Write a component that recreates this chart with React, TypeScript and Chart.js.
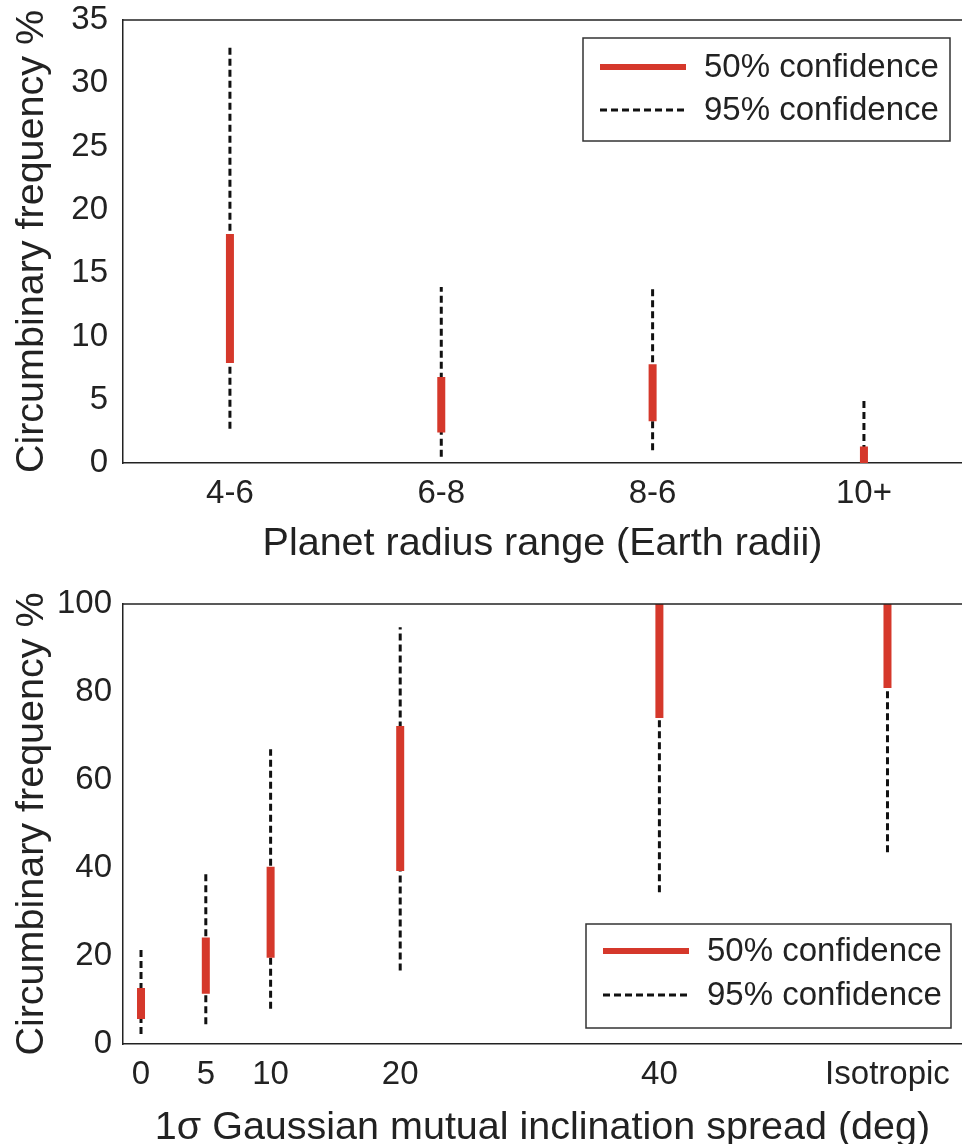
import React, { useEffect, useRef } from 'react';
import { Chart, registerables } from 'chart.js';

Chart.register(...registerables);

// ---------- data ----------
const legendLabels = ['50% confidence', '95% confidence'];

// top panel: planet radius range
const radiusLabels = ['4-6', '6-8', '8-6', '10+'];
const radiusPositions = [0, 1, 2, 3];
const radius50Low = [7.9, 2.4, 3.3, 0];
const radius50High = [18.1, 6.8, 7.8, 1.3];
const radius95Low = [2.7, 0.5, 1.0, 0];
const radius95High = [33.1, 13.9, 13.8, 5.1];

// bottom panel: mutual inclination spread
const inclLabels = ['0', '5', '10', '20', '40', 'Isotropic'];
const inclPositions = [0, 5, 10, 20, 40, 57.6];
const incl50Low = [5.7, 11.4, 19.6, 39.3, 74.1, 80.9];
const incl50High = [12.7, 24.2, 40.3, 72.3, 100, 100.5];
const incl95Low = [2.3, 4.5, 8.0, 16.7, 34.5, 43.6];
const incl95High = [21.6, 38.6, 67.0, 94.7, 100, 100];

const yTitle = 'Circumbinary frequency %';
const topXTitle = 'Planet radius range (Earth radii)';
const bottomXTitle = '1\u03c3 Gaussian mutual inclination spread (deg)';

// ---------- styling ----------
const FONT = '"Liberation Sans", Arial, Helvetica, sans-serif';
const TEXT = '#222';
const RED = '#d5382b';
const DASH = '#111';

function segments(pos: number[], low: number[], high: number[]) {
  const out: { x: number; y: number | null }[] = [];
  pos.forEach((x, i) => {
    out.push({ x, y: low[i] }, { x, y: high[i] }, { x, y: null });
  });
  return out;
}

const frameLegendPlugin = {
  id: 'frameLegend',
  afterDraw(chart: any, _args: any, opts: any) {
    const { ctx, chartArea } = chart;
    ctx.save();
    ctx.strokeStyle = TEXT;
    ctx.lineWidth = 1.5;
    ctx.setLineDash([]);
    ctx.beginPath();
    ctx.moveTo(chartArea.left, chartArea.top);
    ctx.lineTo(chartArea.right, chartArea.top);
    ctx.stroke();

    const bx = chartArea.left + opts.offsetX;
    const by = opts.fromBottom
      ? chartArea.bottom - opts.offsetY - opts.height
      : chartArea.top + opts.offsetY;
    ctx.fillStyle = '#fff';
    ctx.fillRect(bx, by, opts.width, opts.height);
    ctx.strokeStyle = '#333';
    ctx.lineWidth = 1.5;
    ctx.strokeRect(bx, by, opts.width, opts.height);

    chart.data.datasets.forEach((ds: any, i: number) => {
      const y = by + opts.rows[i];
      ctx.beginPath();
      ctx.strokeStyle = ds.borderColor;
      ctx.lineWidth = i === 0 ? 6 : 3;
      ctx.setLineDash(ds.borderDash || []);
      ctx.moveTo(bx + 17, y);
      ctx.lineTo(bx + 103, y);
      ctx.stroke();
      ctx.setLineDash([]);
      ctx.fillStyle = TEXT;
      ctx.font = `33px ${FONT}`;
      ctx.textBaseline = 'middle';
      ctx.textAlign = 'left';
      ctx.fillText(ds.label, bx + 121, y + 1);
    });
    ctx.restore();
  },
};

type Panel = {
  labels: string[];
  pos: number[];
  lo50: number[];
  hi50: number[];
  lo95: number[];
  hi95: number[];
  xMin: number;
  xMax: number;
  yMax: number;
  yStep: number;
  yTickPad: number;
  xTitle: string;
  padTop: number;
  xAxisHeight: number;
  xTitlePadBottom: number;
  legend: any;
};

function makeConfig(p: Panel): any {
  return {
    type: 'line',
    data: {
      datasets: [
        {
          label: legendLabels[0],
          data: segments(p.pos, p.lo50, p.hi50),
          borderColor: RED,
          borderWidth: 8,
          borderCapStyle: 'butt',
          pointRadius: 0,
          spanGaps: false,
        },
        {
          label: legendLabels[1],
          data: segments(p.pos, p.lo95, p.hi95),
          borderColor: DASH,
          borderWidth: 3,
          borderDash: [7, 4],
          borderCapStyle: 'butt',
          pointRadius: 0,
          spanGaps: false,
        },
      ],
    },
    options: {
      animation: false,
      responsive: true,
      maintainAspectRatio: false,
      events: [],
      layout: { padding: { top: p.padTop, left: 0, right: 0, bottom: 0 } },
      scales: {
        x: {
          type: 'linear',
          min: p.xMin,
          max: p.xMax,
          afterBuildTicks: (s: any) => {
            s.ticks = p.pos.map((v) => ({ value: v }));
          },
          afterFit: (s: any) => {
            s.height = p.xAxisHeight;
            s.paddingLeft = 0;
            s.paddingRight = 0;
          },
          ticks: {
            autoSkip: false,
            maxRotation: 0,
            padding: 11,
            color: TEXT,
            font: { family: FONT, size: 33 },
            callback: (v: number) => {
              const i = p.pos.indexOf(v);
              return i >= 0 ? p.labels[i] : '';
            },
          },
          grid: { display: false, drawTicks: false },
          border: { display: true, color: TEXT, width: 1.5 },
          title: {
            display: true,
            text: p.xTitle,
            color: TEXT,
            font: { family: FONT, size: 39.5, lineHeight: 0.8 },
            padding: { top: 0, bottom: p.xTitlePadBottom },
          },
        },
        y: {
          min: 0,
          max: p.yMax,
          afterFit: (s: any) => {
            s.width = 123;
            s.paddingTop = 0;
            s.paddingBottom = 0;
          },
          ticks: {
            stepSize: p.yStep,
            padding: p.yTickPad,
            color: TEXT,
            font: { family: FONT, size: 33 },
          },
          grid: { display: false, drawTicks: false },
          border: { display: true, color: TEXT, width: 1.5 },
          title: {
            display: true,
            text: yTitle,
            color: TEXT,
            font: { family: FONT, size: 39.5, lineHeight: 0.8 },
            padding: { top: 16, bottom: 0 },
          },
        },
      },
      plugins: {
        legend: { display: false },
        tooltip: { enabled: false },
        frameLegend: p.legend,
      },
    },
    plugins: [frameLegendPlugin],
  };
}

function ChartPanel({ panel, height }: { panel: Panel; height: number }) {
  const ref = useRef<HTMLCanvasElement | null>(null);
  useEffect(() => {
    if (!ref.current) return;
    const chart = new Chart(ref.current, makeConfig(panel));
    return () => chart.destroy();
  }, [panel]);
  return (
    <div style={{ position: 'relative', width: 962, height }}>
      <canvas ref={ref} />
    </div>
  );
}

const topPanel: Panel = {
  labels: radiusLabels,
  pos: radiusPositions,
  lo50: radius50Low,
  hi50: radius50High,
  lo95: radius95Low,
  hi95: radius95High,
  xMin: -0.506,
  xMax: 3.464,
  yMax: 35,
  yStep: 5,
  yTickPad: 15,
  xTitle: topXTitle,
  padTop: 20,
  xAxisHeight: 117,
  xTitlePadBottom: 20,
  legend: { offsetX: 460, offsetY: 18, width: 367, height: 103, rows: [29, 72], fromBottom: false },
};

const bottomPanel: Panel = {
  labels: inclLabels,
  pos: inclPositions,
  lo50: incl50Low,
  hi50: incl50High,
  lo95: incl95Low,
  hi95: incl95High,
  xMin: -1.39,
  xMax: 63.35,
  yMax: 100,
  yStep: 20,
  yTickPad: 11,
  xTitle: bottomXTitle,
  padTop: 24,
  xAxisHeight: 100,
  xTitlePadBottom: 0,
  legend: { offsetX: 463, offsetY: 16, width: 365, height: 104, rows: [27, 71], fromBottom: true },
};

export default function App() {
  return (
    <div
      style={{
        position: 'absolute',
        left: 0,
        top: 0,
        width: 962,
        height: 1144,
        overflow: 'hidden',
        background: '#fff',
      }}
    >
      <ChartPanel panel={topPanel} height={580} />
      <ChartPanel panel={bottomPanel} height={564} />
    </div>
  );
}
